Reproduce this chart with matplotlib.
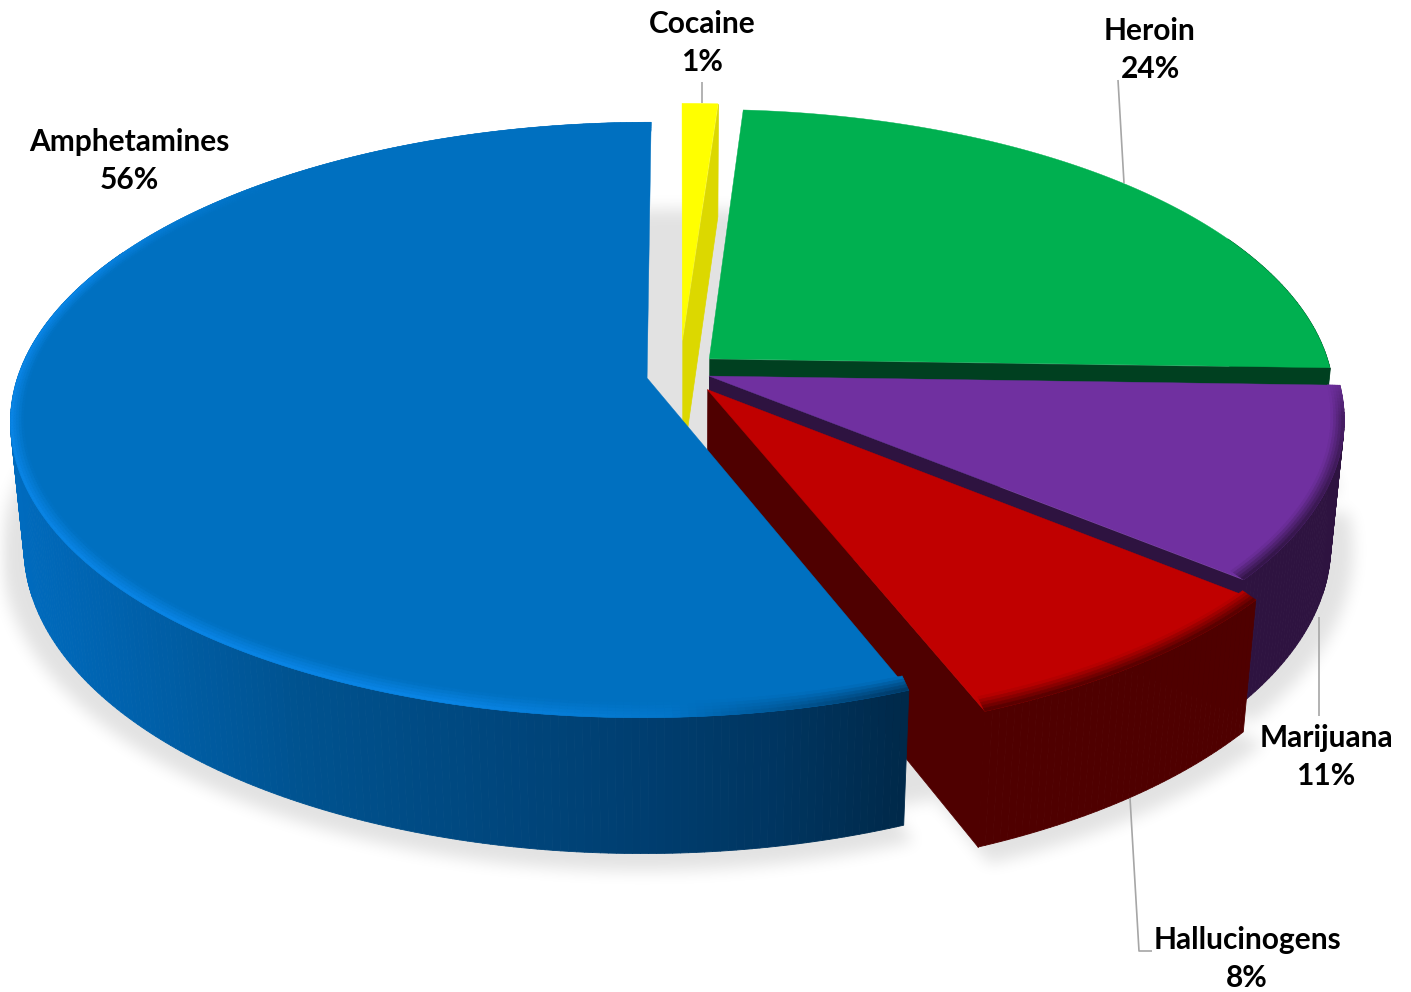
import numpy as np
import matplotlib
matplotlib.use("Agg")
import matplotlib.pyplot as plt
from matplotlib.collections import PolyCollection
from matplotlib.colors import to_rgb

# shares clockwise from 12 o'clock and the labels printed on the chart
names = ['Cocaine', 'Heroin', 'Marijuana', 'Hallucinogens', 'Amphetamines']
shares = [1.1, 24.4, 10.5, 8.0, 56.0]
share_labels = ['1%', '24%', '11%', '8%', '56%']
explode = [0.107, 0.063, 0.049, 0.073, 0.053]
explode_dv = [0, 0, 0, -0.004, -0.014]
radius_scale = [0.95, 0.987, 0.995, 1.012, 0.996]
face_colors = ['#FFFF00', '#00B050', '#7030A0', '#C00000', '#0070C0']
wall_colors = ['#DCD800', '#004020', '#2E1340', '#4F0000', '#002848']

W, H = 1411, 992
CX, CY = 680, 371      # pie centre on the canvas
RX, RY = 630, 291      # radii of the top face
PERSP = 0.141          # far side of the disc shrinks
DEPTH = 126
DEPTH_PERSP = 0.02


def project(u, v, z=0.0):
    w = 1 + PERSP * v + DEPTH_PERSP * z
    return CX + RX * u / w, CY + (-RY * v + DEPTH * z) / w


def mix(a, b, t):
    a, b = np.array(to_rgb(a)), np.array(to_rgb(b))
    return tuple(a + (b - a) * t)


edges = np.radians(np.concatenate([[0], np.cumsum(shares)]) * 3.6)
slices = []
for i in range(len(shares)):
    n = max(6, int((edges[i + 1] - edges[i]) * 90))
    mid = (edges[i] + edges[i + 1]) / 2
    apex = (explode[i] * np.sin(mid), explode[i] * np.cos(mid) + explode_dv[i])
    slices.append((edges[i], edges[i + 1], apex, n))


def disc_uv(i, th, grow=1.0):
    a, b, apex, n = slices[i]
    return radius_scale[i] * grow * np.sin(th) + apex[0], radius_scale[i] * grow * np.cos(th) + apex[1]


def blurred_shadow():
    # draw the footprint off-screen, blur it, use the result as an alpha mask
    sf = plt.figure(figsize=(W / 100, H / 100), dpi=100)
    sa = sf.add_axes([0, 0, 1, 1])
    sa.set_xlim(0, W)
    sa.set_ylim(H, 0)
    sa.axis('off')
    th = np.linspace(0, 2 * np.pi, 300)
    x, y = project(np.sin(th), np.cos(th), 1.0)
    sa.fill(x, y - 20, color='k', lw=0)
    for i, (a, b, apex, n) in enumerate(slices):
        th = np.linspace(a, b, n)
        u, v = disc_uv(i, th, 1.035)
        x, y = project(np.r_[u, apex[0]], np.r_[v, apex[1]], 1.0)
        sa.fill(x, y + 3, color='k', lw=0)
    sf.canvas.draw()
    mask = 1 - np.asarray(sf.canvas.buffer_rgba())[:, :, 0] / 255.0
    plt.close(sf)
    k = 15
    for _ in range(3):
        for ax_ in (0, 1):
            c = np.cumsum(np.insert(mask, 0, 0, axis=ax_), axis=ax_)
            pad = [(0, 0), (0, 0)]
            pad[ax_] = (k // 2, k // 2)
            c = np.pad(c, pad, mode='edge')
            if ax_ == 0:
                mask = (c[k:, :] - c[:-k, :]) / k
            else:
                mask = (c[:, k:] - c[:, :-k]) / k
    rgba = np.zeros((H, W, 4))
    rgba[:, :, 3] = mask[:H, :W] * 0.115
    return rgba


def wall_color(i, x):
    if i != 4:
        return to_rgb(wall_colors[i])
    # big slice: side goes from mid blue on the left to nearly black-blue
    xs = [0, 300, 640, 780, 915]
    cs = np.array([to_rgb(c) for c in ['#006CC0', '#00528F', '#003E70', '#003560', '#002848']])
    return tuple(np.interp(x, xs, cs[:, k]) for k in range(3))


def rim_color(i, phi):
    # colour the bevel runs towards at the outer edge of a top face
    deg = np.degrees(phi)
    if i == 4:
        hi = np.interp(deg, [158, 172, 195, 290, 320], [0, 0, 1, 1, 0])
        lo = np.interp(deg, [158, 178], [1, 0])
        base = mix('#0070C0', '#0A86E8', hi)
        return mix(base, '#00284A', lo * 0.85)
    if i in (2, 3):
        s = np.interp(deg, [90, 98, 125, 160], [0, 0.7, 1, 1])
        return mix(face_colors[i], wall_colors[i], s)
    return to_rgb(face_colors[i])


fig = plt.figure(figsize=(W / 100, H / 100), dpi=100, facecolor='white')
ax = fig.add_axes([0, 0, 1, 1])
ax.imshow(blurred_shadow(), extent=(0, W, H, 0), zorder=0, aspect='auto')
ax.set_xlim(0, W)
ax.set_ylim(H, 0)
ax.axis('off')

z = 1
for i, (a, b, apex, n) in enumerate(slices):
    th = np.linspace(a, b, n)
    u, v = disc_uv(i, th)

    # straight wall on the clockwise end of the slice, the big one hides its own
    if i != 4:
        px = [project(*apex), project(u[-1], v[-1]),
              project(u[-1], v[-1], 1.0), project(apex[0], apex[1], 1.0)]
        ax.add_collection(PolyCollection([px], facecolors=[wall_colors[i]],
                                         edgecolors=[wall_colors[i]], linewidths=0.5, zorder=z))
        z += 1

    # curved outer side, only where it faces the viewer
    x0, y0 = project(u, v)
    x1, y1 = project(u, v, 1.0)
    keep = [k for k in range(n - 1) if np.cos(th[k]) < 0.45]
    if keep:
        quads = [[(x0[k], y0[k]), (x0[k + 1], y0[k + 1]), (x1[k + 1], y1[k + 1]), (x1[k], y1[k])]
                 for k in keep]
        cols = [wall_color(i, (x0[k] + x0[k + 1]) / 2) for k in keep]
        ax.add_collection(PolyCollection(quads, facecolors=cols, edgecolors=cols, linewidths=0.6, zorder=z))
        z += 1

    # flat top
    x0, y0 = project(np.r_[apex[0], u], np.r_[apex[1], v])
    ax.fill(x0, y0, color=face_colors[i], lw=0.3, zorder=z)
    z += 1

    # soft bevel along the outer edge
    if i >= 2:
        steps = np.linspace(0, 1, 6)
        polys, pcols = [], []
        for s0, s1 in zip(steps[:-1], steps[1:]):
            for k in range(n - 1):
                t = th[k:k + 2]
                def ring(sv):
                    return project(np.sin(t) * (1 - 0.02 * sv) * radius_scale[i] + apex[0],
                                   np.cos(t) * (1 - 0.04 * sv) * radius_scale[i] + apex[1])
                xa, ya = ring(1 - s0)
                xb, yb = ring(1 - s1)
                polys.append([(xa[0], ya[0]), (xa[1], ya[1]), (xb[1], yb[1]), (xb[0], yb[0])])
                pcols.append(mix(face_colors[i], rim_color(i, t.mean()), (s0 + s1) / 2))
        ax.add_collection(PolyCollection(polys, facecolors=pcols, edgecolors=pcols, linewidths=0.4, zorder=z))
        z += 1

# leader lines
leader_xs = [[702, 702], [1118, 1124], [1319, 1319], [1130, 1139, 1152]]
leader_ys = [[82, 103], [80, 183], [617, 716], [798, 951, 951]]
for lx, ly in zip(leader_xs, leader_ys):
    ax.plot(lx, ly, color='#A6A6A6', lw=1.2, zorder=50, solid_capstyle='butt')

# labels, name on top of the share
label_x = [702, 1150, 1326, 1247, 129]
label_y = [24, 31, 738, 940, 142]
for name, lab, lx, ly in zip(names, share_labels, label_x, label_y):
    ax.text(lx, ly, name, ha='center', va='center', family='Lato', weight='bold',
            fontsize=21.5, color='black', zorder=60)
    ax.text(lx, ly + 38, lab, ha='center', va='center', family='Lato', weight='bold',
            fontsize=21.5, color='black', zorder=60)

fig.savefig('out.png', dpi=100)
